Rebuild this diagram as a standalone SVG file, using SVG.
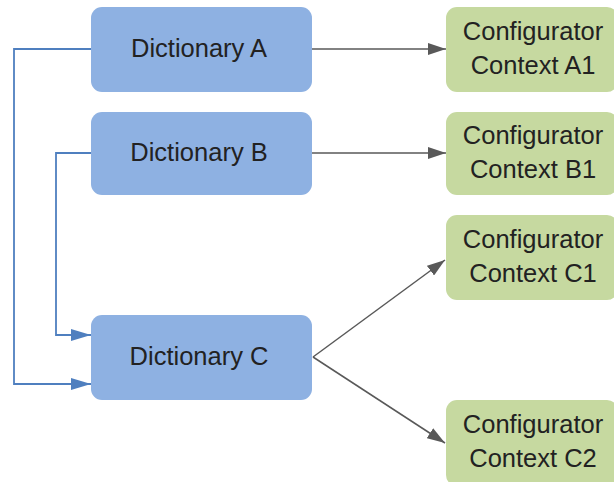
<svg xmlns="http://www.w3.org/2000/svg" width="614" height="482" viewBox="0 0 614 482">
  <defs>
    <marker id="arrowGray" markerWidth="18" markerHeight="12" refX="18" refY="6" orient="auto" markerUnits="userSpaceOnUse">
      <path d="M0,0 L18,6 L0,12 Z" fill="#595959"/>
    </marker>
    <marker id="arrowBlue" markerWidth="20" markerHeight="12" refX="20" refY="6" orient="auto" markerUnits="userSpaceOnUse">
      <path d="M0,0 L20,6 L0,12 Z" fill="#4f7fbf"/>
    </marker>
  </defs>
  <style>
    .dict { fill: #8eb1e2; }
    .ctx { fill: #c6d9a0; }
    .label { font-family: "Liberation Sans", Arial, sans-serif; font-size: 25.5px; fill: #222222; text-anchor: middle; }
    .gray { stroke: #595959; stroke-width: 1.5; fill: none; }
    .blue { stroke: #4f7fbf; stroke-width: 1.8; fill: none; }
  </style>
  <rect width="614" height="482" fill="#ffffff"/>

  <g id="connectors">
    <line class="gray" x1="312" y1="49" x2="446" y2="49" marker-end="url(#arrowGray)"/>
    <line class="gray" x1="312" y1="153" x2="446" y2="153" marker-end="url(#arrowGray)"/>
    <line class="gray" x1="313" y1="357" x2="445" y2="260" marker-end="url(#arrowGray)"/>
    <line class="gray" x1="313" y1="357" x2="445" y2="443" marker-end="url(#arrowGray)"/>
    <polyline class="blue" points="91,49 14,49 14,384 91,384" marker-end="url(#arrowBlue)"/>
    <polyline class="blue" points="91,153 56,153 56,335 91,335" marker-end="url(#arrowBlue)"/>
  </g>

  <g id="dictA">
    <rect class="dict" x="91" y="7" width="221" height="85" rx="11"/>
    <text class="label" x="199" y="57">Dictionary A</text>
  </g>
  <g id="dictB">
    <rect class="dict" x="91" y="112" width="221" height="83" rx="11"/>
    <text class="label" x="199" y="161">Dictionary B</text>
  </g>
  <g id="dictC">
    <rect class="dict" x="91" y="315" width="221" height="85" rx="11"/>
    <text class="label" x="199" y="365">Dictionary C</text>
  </g>

  <g id="ctxA1">
    <rect class="ctx" x="446" y="7" width="172" height="85" rx="11"/>
    <text class="label" x="533" y="39.5">Configurator</text>
    <text class="label" x="533" y="73.5">Context A1</text>
  </g>
  <g id="ctxB1">
    <rect class="ctx" x="446" y="112" width="172" height="83" rx="11"/>
    <text class="label" x="533" y="143.5">Configurator</text>
    <text class="label" x="533" y="177.5">Context B1</text>
  </g>
  <g id="ctxC1">
    <rect class="ctx" x="446" y="215" width="172" height="85" rx="11"/>
    <text class="label" x="533" y="247.5">Configurator</text>
    <text class="label" x="533" y="281.5">Context C1</text>
  </g>
  <g id="ctxC2">
    <rect class="ctx" x="446" y="400" width="172" height="86" rx="11"/>
    <text class="label" x="533" y="433">Configurator</text>
    <text class="label" x="533" y="467">Context C2</text>
  </g>
</svg>
